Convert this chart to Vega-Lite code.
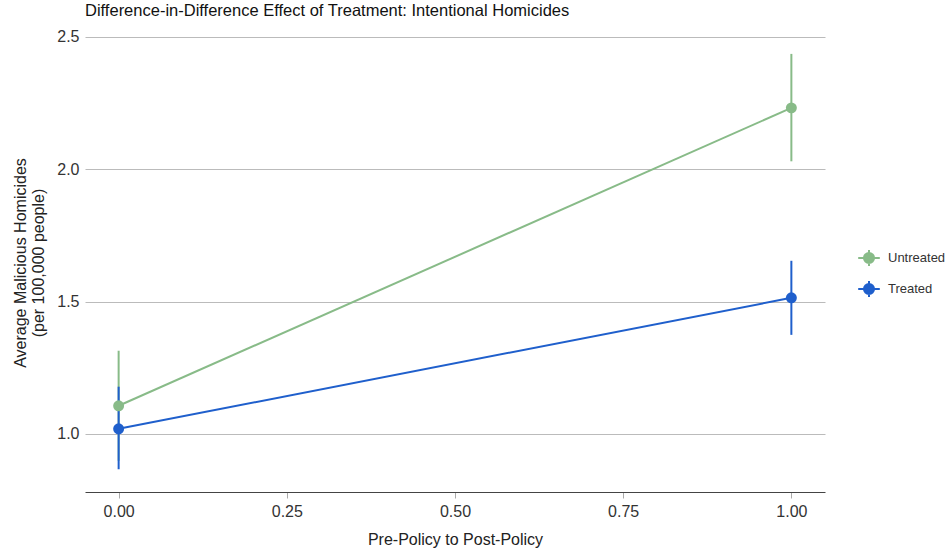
{
  "$schema": "https://vega.github.io/schema/vega-lite/v6.json",
  "autosize": {"type": "none"},
  "width": 740,
  "height": 459,
  "padding": {"left": 85, "top": 33, "right": 127, "bottom": 65},
  "background": "white",
  "config": {
    "font": "Liberation Sans",
    "view": {"stroke": null},
    "axis": {"labelFont": "Liberation Sans", "titleFont": "Liberation Sans"}
  },
  "title": {
    "text": "Difference-in-Difference Effect of Treatment: Intentional Homicides",
    "anchor": "start",
    "frame": "group",
    "fontSize": 16.5,
    "fontWeight": "normal",
    "color": "#111",
    "offset": 9
  },
  "data": {
    "values": [
      {"group": "Untreated", "period": 0, "mean": 1.106, "lo": 0.898, "hi": 1.314},
      {"group": "Untreated", "period": 1, "mean": 2.232, "lo": 2.030, "hi": 2.436},
      {"group": "Treated", "period": 0, "mean": 1.019, "lo": 0.866, "hi": 1.178},
      {"group": "Treated", "period": 1, "mean": 1.514, "lo": 1.374, "hi": 1.654}
    ]
  },
  "encoding": {
    "x": {
      "field": "period",
      "type": "quantitative",
      "scale": {"domain": [-0.05, 1.05], "nice": false, "zero": false},
      "axis": {
        "values": [0, 0.25, 0.5, 0.75, 1],
        "format": ".2f",
        "title": "Pre-Policy to Post-Policy",
        "grid": false,
        "domainColor": "#444",
        "domainWidth": 1,
        "tickColor": "#aaa",
        "tickSize": 6,
        "labelFontSize": 16,
        "labelColor": "#333",
        "labelPadding": 5,
        "titleFontSize": 16,
        "titleFontWeight": "normal",
        "titleColor": "#222",
        "titlePadding": 12
      }
    },
    "color": {
      "field": "group",
      "type": "nominal",
      "scale": {"domain": ["Untreated", "Treated"], "range": ["#88bb88", "#1f5fcc"]},
      "legend": {
        "title": null,
        "orient": "none",
        "legendX": 771,
        "legendY": 212,
        "symbolType": "M-0.9,0H0.9M0,-0.67V0.67M0.42,0A0.42,0.42,0,1,1,-0.42,0A0.42,0.42,0,1,1,0.42,0Z",
        "symbolSize": 576,
        "symbolStrokeWidth": 2,
        "labelFontSize": 13,
        "labelColor": "#333",
        "labelOffset": 6,
        "rowPadding": 5,
        "encode": {
          "symbols": {
            "update": {
              "stroke": {"scale": "color", "field": "value"},
              "fill": {"scale": "color", "field": "value"},
              "opacity": {"value": 1}
            }
          }
        }
      }
    }
  },
  "layer": [
    {
      "mark": {"type": "line", "strokeWidth": 2},
      "encoding": {
        "y": {
          "field": "mean",
          "type": "quantitative",
          "scale": {"domain": [0.78, 2.515], "nice": false, "zero": false},
          "axis": {
            "values": [1.0, 1.5, 2.0, 2.5],
            "format": ".1f",
            "title": ["Average Malicious Homicides", "(per 100,000 people)"],
            "grid": true,
            "gridColor": "#bbbbbb",
            "gridWidth": 1.2,
            "domain": false,
            "ticks": false,
            "labelFontSize": 16,
            "labelColor": "#333",
            "labelPadding": 6,
            "titleFontSize": 16,
            "titleFontWeight": "normal",
            "titleColor": "#222",
            "titlePadding": 10
          }
        }
      }
    },
    {
      "mark": {"type": "rule", "strokeWidth": 2},
      "encoding": {
        "y": {"field": "lo", "type": "quantitative"},
        "y2": {"field": "hi"}
      }
    },
    {
      "mark": {"type": "point", "filled": true, "opacity": 1, "size": 120},
      "encoding": {
        "y": {"field": "mean", "type": "quantitative"}
      }
    }
  ]
}
